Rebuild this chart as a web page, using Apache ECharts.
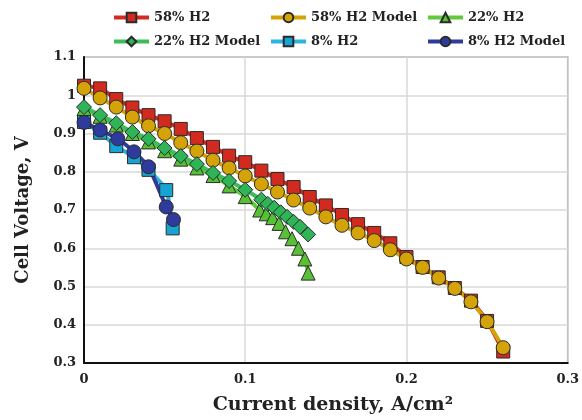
<!DOCTYPE html>
<html>
<head>
<meta charset="utf-8">
<script src="https://cdn.jsdelivr.net/npm/echarts@6/dist/echarts.min.js"></script>
<style>
  html, body { margin: 0; padding: 0; background: #fff; }
  #chart { width: 582px; height: 420px; }
</style>
</head>
<body>
<div id="chart"></div>
<script>
// current density (A/cm2) and voltage (V)
var x58 = [0, 0.01, 0.02, 0.03, 0.04, 0.05, 0.06, 0.07, 0.08, 0.09, 0.10, 0.11, 0.12, 0.13,
           0.14, 0.15, 0.16, 0.17, 0.18, 0.19, 0.20, 0.21, 0.22, 0.23, 0.24, 0.25, 0.26]
var v58 = [1.025, 1.018, 0.99, 0.968, 0.948, 0.932, 0.912, 0.888, 0.865, 0.842, 0.825, 0.803,
           0.781, 0.76, 0.734, 0.712, 0.687, 0.663, 0.64, 0.613, 0.577, 0.551, 0.524, 0.496,
           0.463, 0.41, 0.33]
var v58m = [1.018, 0.993, 0.969, 0.943, 0.92, 0.90, 0.876, 0.854, 0.83, 0.81, 0.789, 0.768,
            0.747, 0.726, 0.705, 0.682, 0.66, 0.64, 0.62, 0.596, 0.572, 0.55, 0.522, 0.495,
            0.46, 0.408, 0.34]

var x22 = [0, 0.01, 0.02, 0.03, 0.04, 0.05, 0.06, 0.07, 0.08, 0.09, 0.10,
           0.109, 0.113, 0.117, 0.121, 0.125, 0.129, 0.133, 0.137, 0.139]
var v22 = [0.965, 0.945, 0.922, 0.9, 0.878, 0.855, 0.833, 0.81, 0.79, 0.763, 0.735,
           0.70, 0.69, 0.68, 0.665, 0.643, 0.625, 0.60, 0.572, 0.535]
var x22m = [0, 0.01, 0.02, 0.03, 0.04, 0.05, 0.06, 0.07, 0.08, 0.09, 0.10,
            0.11, 0.114, 0.118, 0.122, 0.126, 0.13, 0.134, 0.139]
var v22m = [0.969, 0.948, 0.927, 0.904, 0.886, 0.862, 0.841, 0.82, 0.797, 0.776, 0.753,
            0.727, 0.716, 0.706, 0.694, 0.682, 0.669, 0.656, 0.636]

var x8 = [0, 0.01, 0.02, 0.031, 0.04, 0.051, 0.055]
var v8 = [0.93, 0.902, 0.867, 0.838, 0.805, 0.752, 0.652]
var x8m = [0, 0.01, 0.021, 0.031, 0.04, 0.051, 0.0555]
var v8m = [0.929, 0.909, 0.886, 0.852, 0.813, 0.708, 0.675]

var names = ['58% H2', '58% H2 Model', '22% H2', '22% H2 Model', '8% H2', '8% H2 Model']
var xTicks = [0, 0.1, 0.2, 0.3]
var yTicks = [0.3, 0.4, 0.5, 0.6, 0.7, 0.8, 0.9, 1, 1.1]

var font = 'DejaVu Serif'

function pairs(xs, ys) {
  return xs.map(function (x, i) { return [x, ys[i]] })
}

function line(name, xs, ys, symbol, size, fill, stroke) {
  return {
    name: name,
    type: 'line',
    data: pairs(xs, ys),
    smooth: 0.2,
    symbol: symbol,
    symbolSize: size,
    showAllSymbol: true,
    lineStyle: { color: stroke, width: 4 },
    itemStyle: { color: fill, borderColor: '#2b2b2b', borderWidth: 1 },
    emphasis: { disabled: true }
  }
}

function legendCol(left, items) {
  return {
    orient: 'vertical',
    left: left,
    top: 6,
    itemWidth: 35,
    itemHeight: 12,
    itemGap: 11,
    data: items,
    lineStyle: { width: 4 },
    textStyle: { fontFamily: font, fontWeight: 'bold', fontSize: 13, color: '#222' }
  }
}

var chart = echarts.init(document.getElementById('chart'))
chart.setOption({
  animation: false,
  legend: [
    legendCol(107, [names[0], names[3]]),
    legendCol(264, [names[1], names[4]]),
    legendCol(421, [names[2], names[5]])
  ],
  grid: { left: 84, right: 11, top: 57, bottom: 57, show: true, borderColor: '#808080', borderWidth: 1.5 },
  xAxis: {
    type: 'value',
    min: xTicks[0],
    max: xTicks[xTicks.length - 1],
    interval: 0.1,
    name: 'Current density, A/cm²',
    nameLocation: 'middle',
    nameGap: 33,
    nameTextStyle: { fontFamily: font, fontWeight: 'bold', fontSize: 19, color: '#222', padding: [0, 0, 0, 14] },
    axisLine: { lineStyle: { color: '#111', width: 2 } },
    axisTick: { show: false },
    axisLabel: {
      fontFamily: font, fontWeight: 'bold', fontSize: 13, color: '#222', margin: 10,
      formatter: function (v) { return String(+v.toFixed(2)) }
    },
    splitLine: { lineStyle: { color: '#d9d9d9', width: 1.5 } }
  },
  yAxis: {
    type: 'value',
    min: yTicks[0],
    max: yTicks[yTicks.length - 1],
    interval: 0.1,
    name: 'Cell Voltage, V',
    nameLocation: 'middle',
    nameGap: 52,
    nameTextStyle: { fontFamily: font, fontWeight: 'bold', fontSize: 18, color: '#222' },
    axisLine: { show: true, lineStyle: { color: '#111', width: 2 } },
    axisTick: { show: false },
    axisLabel: {
      fontFamily: font, fontWeight: 'bold', fontSize: 13, color: '#222', margin: 8,
      formatter: function (v) { return String(+v.toFixed(2)) }
    },
    splitLine: { lineStyle: { color: '#d9d9d9', width: 1.5 } }
  },
  series: [
    line(names[0], x58, v58, 'rect', 13, '#d32a1f', '#d32a1f'),
    line(names[1], x58, v58m, 'circle', 14, '#d4a308', '#d4a308'),
    line(names[2], x22, v22, 'triangle', 14, '#58c034', '#62c93c'),
    line(names[3], x22m, v22m, 'diamond', 15, '#2fb457', '#3cbd5c'),
    line(names[4], x8, v8, 'rect', 13, '#18a4d2', '#2eb3de'),
    line(names[5], x8m, v8m, 'circle', 14, '#2e3b9c', '#2e3b9c')
  ]
})
</script>
</body>
</html>
